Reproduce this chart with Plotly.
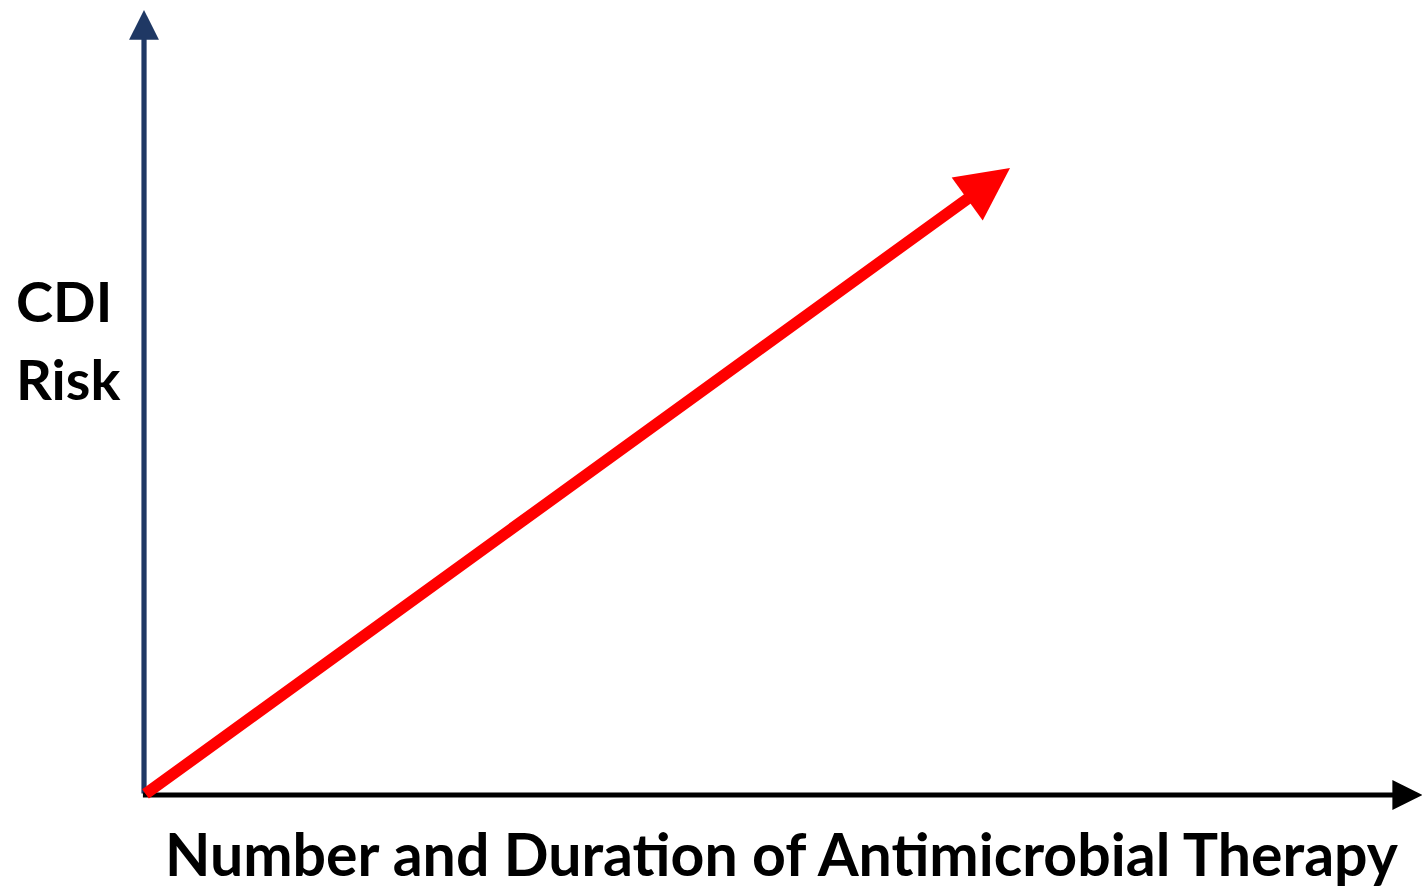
import plotly.graph_objects as go

# Conceptual data (arbitrary units)
therapy = [0, 10]          # number & duration of antimicrobial therapy
cdi_risk = [0, 10]         # CDI risk
x_axis_end = 14.76
y_axis_end = 12.52
x_label = "Number and Duration of Antimicrobial Therapy"
y_label_lines = ["CDI", "Risk"]

W, H = 1422, 892
x_range = [-1.663, 14.757]
y_range = [-1.547, 12.679]

fig = go.Figure()
fig.add_trace(go.Scatter(x=therapy, y=cdi_risk, mode="lines",
                         line=dict(color="rgba(0,0,0,0)"), hoverinfo="skip", showlegend=False))

# y axis arrow (navy)
fig.add_annotation(x=0, y=y_axis_end, ax=0, ay=0, xref="x", yref="y", axref="x", ayref="y",
                   showarrow=True, arrowhead=2, arrowsize=1.15, arrowwidth=5.2,
                   arrowcolor="#1F3864", text="")
# x axis arrow (black)
fig.add_annotation(x=x_axis_end, y=0, ax=-0.03, ay=0, xref="x", yref="y", axref="x", ayref="y",
                   showarrow=True, arrowhead=2, arrowsize=1.15, arrowwidth=5.2,
                   arrowcolor="black", text="")
# red risk arrow
fig.add_annotation(x=therapy[1], y=cdi_risk[1], ax=therapy[0], ay=cdi_risk[0],
                   xref="x", yref="y", axref="x", ayref="y",
                   showarrow=True, arrowhead=2, arrowsize=0.92, arrowwidth=11.5,
                   arrowcolor="#FF0000", text="")

yfont = dict(family="Lato, Open Sans, sans-serif", size=56, color="black", weight="bold")
xfont = dict(family="Lato, Open Sans, sans-serif", size=59, color="black", weight="bold")
fig.add_annotation(x=14 / W, y=1 - 300 / H, xref="paper", yref="paper", text=y_label_lines[0],
                   showarrow=False, xanchor="left", yanchor="middle", font=yfont)
fig.add_annotation(x=14 / W, y=1 - 378 / H, xref="paper", yref="paper", text=y_label_lines[1],
                   showarrow=False, xanchor="left", yanchor="middle", font=yfont)
fig.add_annotation(x=163 / W, y=1 - 853 / H, xref="paper", yref="paper", text=x_label,
                   showarrow=False, xanchor="left", yanchor="middle", font=xfont)

fig.update_layout(width=W, height=H, margin=dict(l=0, r=0, t=0, b=0),
                  paper_bgcolor="white", plot_bgcolor="white",
                  xaxis=dict(range=x_range, visible=False, fixedrange=True),
                  yaxis=dict(range=y_range, visible=False, fixedrange=True))
fig.write_html("out.html", config={"displayModeBar": False},
               post_script="document.body.style.margin='0';document.body.style.overflow='hidden';")
